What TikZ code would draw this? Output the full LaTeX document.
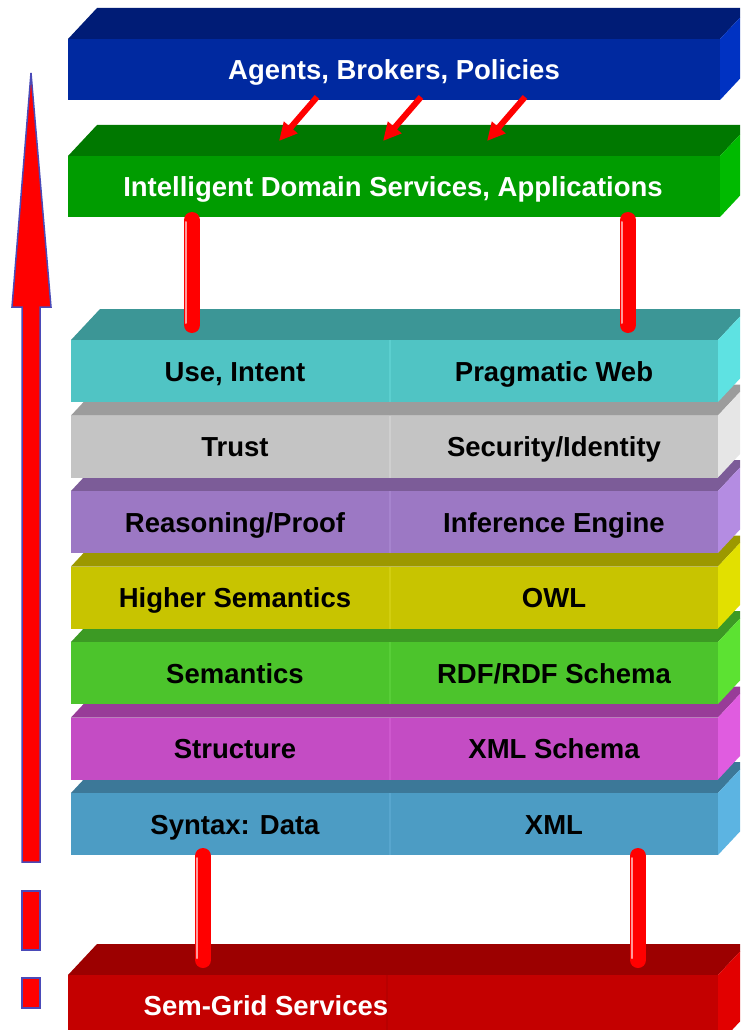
\documentclass[tikz,border=0pt]{standalone}
\usepackage{fontspec}
\setmainfont{Liberation Sans}
\usetikzlibrary{arrows.meta,calc}
\definecolor{blF}{RGB}{0,41,160}\definecolor{blT}{RGB}{0,28,118}\definecolor{blS}{RGB}{0,50,194}
\definecolor{grF}{RGB}{0,156,0}\definecolor{grT}{RGB}{0,120,0}\definecolor{grS}{RGB}{0,186,0}
\definecolor{cyF}{RGB}{80,196,196}\definecolor{cyT}{RGB}{60,150,150}\definecolor{cyS}{RGB}{94,226,226}\definecolor{cyM}{RGB}{92,207,207}
\definecolor{gyF}{RGB}{196,196,196}\definecolor{gyT}{RGB}{156,156,156}\definecolor{gyS}{RGB}{230,230,230}\definecolor{gyM}{RGB}{207,207,207}
\definecolor{puF}{RGB}{156,120,196}\definecolor{puT}{RGB}{124,92,152}\definecolor{puS}{RGB}{180,140,226}\definecolor{puM}{RGB}{166,132,206}
\definecolor{yeF}{RGB}{200,196,0}\definecolor{yeT}{RGB}{156,152,0}\definecolor{yeS}{RGB}{226,224,0}\definecolor{yeM}{RGB}{210,206,16}
\definecolor{lgF}{RGB}{76,196,44}\definecolor{lgT}{RGB}{60,154,36}\definecolor{lgS}{RGB}{92,226,50}\definecolor{lgM}{RGB}{88,206,56}
\definecolor{maF}{RGB}{196,76,196}\definecolor{maT}{RGB}{152,60,152}\definecolor{maS}{RGB}{224,92,224}\definecolor{maM}{RGB}{206,88,206}
\definecolor{sbF}{RGB}{76,156,196}\definecolor{sbT}{RGB}{60,120,152}\definecolor{sbS}{RGB}{92,180,226}\definecolor{sbM}{RGB}{88,166,206}
\definecolor{rdF}{RGB}{196,0,0}\definecolor{rdT}{RGB}{156,0,0}\definecolor{rdS}{RGB}{226,0,0}\definecolor{rdM}{RGB}{184,0,0}
\definecolor{arrowline}{RGB}{74,74,184}
% name, x1, ytop, x2, ybottom, front, top, side
\newcommand\slabbox[8]{%
  \fill[#7] (#2,#3) -- ({#2+29},{#3-31}) -- ({#4+29},{#3-31}) -- (#4,#3) -- cycle;
  \fill[#8] (#4,#3) -- ({#4+29},{#3-31}) -- ({#4+29},{#5-31}) -- (#4,#5) -- cycle;
  \fill[#6] (#2,#3) rectangle (#4,#5);
  \coordinate (#1) at ({(#2+#4)/2},{(#3+#5)/2});
}
\tikzset{
  lbl/.style={font=\bfseries\fontsize{27.5}{33}\selectfont, anchor=base, inner sep=0pt},
  rod/.style={draw=red, line width=16pt, line cap=round},
  rodhl/.style={draw=red!40!white, line width=2pt, line cap=round},
  smallarrow/.style={draw=red, line width=6pt, -{Triangle[length=18pt,width=17pt]}},
  bigarrow/.style={fill=red, draw=arrowline, line width=1.5pt, line join=miter},
  midline/.style={line width=1.5pt},
}
\begin{document}
\begin{tikzpicture}[x=1pt,y=-1pt]
\useasboundingbox (0,0) rectangle (740,1030);
\fill[white] (0,0) rectangle (740,1030);
\begin{scope}
\clip (0,0) rectangle (740,1030);
% top slabs
\slabbox{abp}{68}{39}{720}{100}{blF}{blT}{blS}
\slabbox{ids}{68}{156}{720}{217}{grF}{grT}{grS}
% layered stack, bottom first
\slabbox{L6}{71}{793}{718}{855}{sbF}{sbT}{sbS}
\draw[midline, sbM] (390,793) -- (390,855);
\slabbox{L5}{71}{717.5}{718}{779.5}{maF}{maT}{maS}
\draw[midline, maM] (390,717.5) -- (390,779.5);
\slabbox{L4}{71}{642}{718}{704}{lgF}{lgT}{lgS}
\draw[midline, lgM] (390,642) -- (390,704);
\slabbox{L3}{71}{566.5}{718}{628.5}{yeF}{yeT}{yeS}
\draw[midline, yeM] (390,566.5) -- (390,628.5);
\slabbox{L2}{71}{491}{718}{553}{puF}{puT}{puS}
\draw[midline, puM] (390,491) -- (390,553);
\slabbox{L1}{71}{415.5}{718}{477.5}{gyF}{gyT}{gyS}
\draw[midline, gyM] (390,415.5) -- (390,477.5);
\slabbox{L0}{71}{340}{718}{402}{cyF}{cyT}{cyS}
\draw[midline, cyM] (390,340) -- (390,402);
% bottom slab
\slabbox{sgs}{68}{975}{718}{1045}{rdF}{rdT}{rdS}
\draw[midline, rdM] (387,975) -- (387,1030);
\end{scope}
% labels
\node[lbl, white] (tabp) at (394,79.5) {Agents, Brokers, Policies};
\node[lbl, white] (tids) at (393,196.5) {Intelligent Domain Services, Applications};
\node[lbl] (t0a) at (235,381) {Use, Intent};
\node[lbl] (t0b) at (554,381) {Pragmatic Web};
\node[lbl] (t1a) at (235,456.5) {Trust};
\node[lbl] (t1b) at (554,456.5) {Security/Identity};
\node[lbl] (t2a) at (235,532) {Reasoning/Proof};
\node[lbl] (t2b) at (554,532) {Inference Engine};
\node[lbl] (t3a) at (235,607.5) {Higher Semantics};
\node[lbl] (t3b) at (554,607.5) {OWL};
\node[lbl] (t4a) at (235,683) {Semantics};
\node[lbl] (t4b) at (554,683) {RDF/RDF Schema};
\node[lbl] (t5a) at (235,758.5) {Structure};
\node[lbl] (t5b) at (554,758.5) {XML Schema};
\node[lbl] (t6a) at (235,834) {Syntax: Data};
\node[lbl] (t6b) at (554,834) {XML};
\node[lbl, white] (tsgs) at (266,1015) {Sem-Grid Services};
% rods between layers
\coordinate (r1a) at (192,220); \coordinate (r1b) at (192,325);
\coordinate (r2a) at (628,220); \coordinate (r2b) at (628,325);
\coordinate (r3a) at (203,856); \coordinate (r3b) at (203,960);
\coordinate (r4a) at (638,856); \coordinate (r4b) at (638,960);
\foreach \a/\b in {r1a/r1b,r2a/r2b,r3a/r3b,r4a/r4b}{
  \draw[rod] (\a) -- (\b);
  \draw[rodhl] ($(\a)+(-6,2)$) -- ($(\b)+(-6,-2)$);
}
% arrows from agents to services
\coordinate (s1) at (317,97);  \coordinate (e1) at (279,141);
\coordinate (s2) at (421,97);  \coordinate (e2) at (383,141);
\coordinate (s3) at (525,97);  \coordinate (e3) at (487,141);
\draw[smallarrow] (s1) -- (e1);
\draw[smallarrow] (s2) -- (e2);
\draw[smallarrow] (s3) -- (e3);
% big upward arrow
\draw[bigarrow] (31,73) -- (51,307) -- (40,307) -- (40,862) -- (22,862) -- (22,307) -- (12,307) -- cycle;
\draw[bigarrow] (22,891) rectangle (40,950);
\draw[bigarrow] (22,978) rectangle (40,1008);
\end{tikzpicture}
\end{document}
